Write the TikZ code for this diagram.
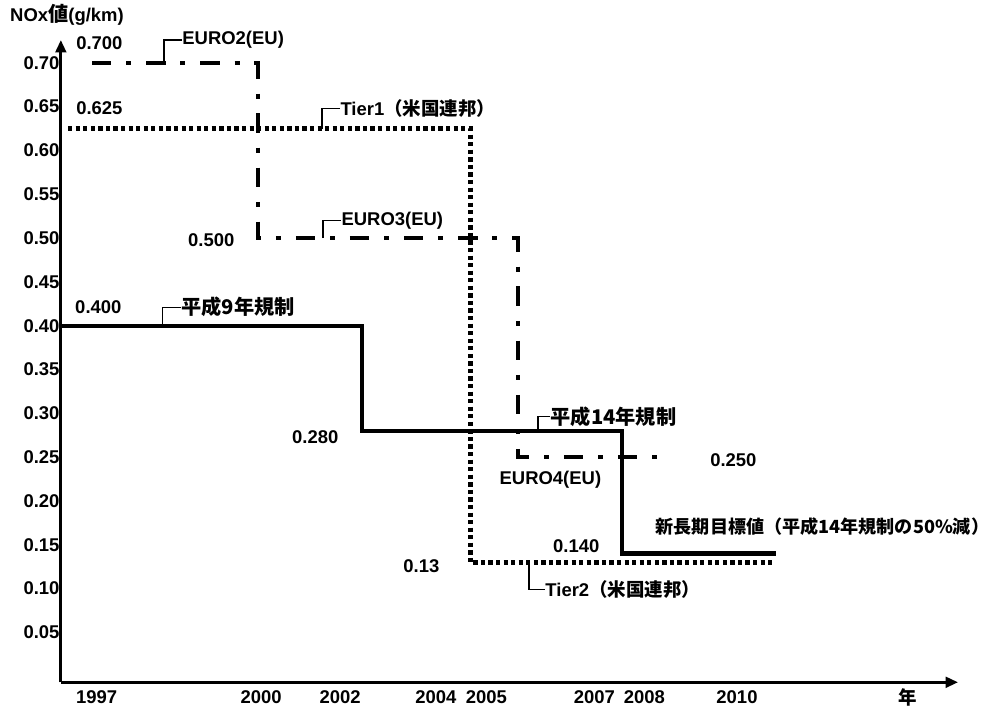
\documentclass[tikz,border=0pt]{standalone}
\usepackage{fontspec}
\setmainfont{Liberation Sans}
\newfontfamily\cjk{Noto Sans CJK JP}
\usetikzlibrary{arrows.meta}
\begin{document}
\begin{tikzpicture}[x=1.04cm, y=1.752cm]
	% estilos
	\tikzstyle{txt} = [inner sep=0pt, font=\bfseries\fontsize{10.5}{12}\selectfont]
	\tikzstyle{jp} = [txt, font=\bfseries\cjk\fontsize{11.5}{13}\selectfont]
	\tikzstyle{eje} = [line width=1.6pt, -{Triangle[length=7pt, width=6pt]}]
	\tikzstyle{japon} = [line width=2.3pt]
	\tikzstyle{euro} = [line width=2.6pt, dash pattern=on 11pt off 8.5pt on 2.8pt off 8.5pt]
	\tikzstyle{tier} = [line width=2.8pt, dash pattern=on 2.4pt off 1.9pt]
	\tikzstyle{guia} = [line width=0.8pt]
	\useasboundingbox (-4.96,-0.377) rectangle (14.19,7.717);
	% ejes
	\coordinate (o) at (-3.79,-0.07);
	\draw [eje] (o) -- (-3.79,7.26);
	\draw [eje] (o) -- (13.46,-0.07);
	\node [txt, anchor=west] (tit) at (-4.77,7.55) {NOx{\cjk\fontsize{11.5}{13}\selectfont 値}(g/km)};
	\node [txt, anchor=east] (y70) at (-3.81,7) {0.70};
	\node [txt, anchor=east] (y65) at (-3.81,6.5) {0.65};
	\node [txt, anchor=east] (y60) at (-3.81,6) {0.60};
	\node [txt, anchor=east] (y55) at (-3.81,5.5) {0.55};
	\node [txt, anchor=east] (y50) at (-3.81,5) {0.50};
	\node [txt, anchor=east] (y45) at (-3.81,4.5) {0.45};
	\node [txt, anchor=east] (y40) at (-3.81,4) {0.40};
	\node [txt, anchor=east] (y35) at (-3.81,3.5) {0.35};
	\node [txt, anchor=east] (y30) at (-3.81,3) {0.30};
	\node [txt, anchor=east] (y25) at (-3.81,2.5) {0.25};
	\node [txt, anchor=east] (y20) at (-3.81,2) {0.20};
	\node [txt, anchor=east] (y15) at (-3.81,1.5) {0.15};
	\node [txt, anchor=east] (y10) at (-3.81,1) {0.10};
	\node [txt, anchor=east] (y05) at (-3.81,0.5) {0.05};
	\node [txt] (a1997) at (-3.1,-0.24) {1997};
	\node [txt] (a2000) at (0.06,-0.24) {2000};
	\node [txt] (a2002) at (1.58,-0.24) {2002};
	\node [txt] (a2004) at (3.42,-0.24) {2004};
	\node [txt] (a2005) at (4.39,-0.24) {2005};
	\node [txt] (a2007) at (6.47,-0.24) {2007};
	\node [txt] (a2008) at (7.43,-0.24) {2008};
	\node [txt] (a2010) at (9.21,-0.24) {2010};
	\node [txt, font=\bfseries\cjk\fontsize{10.5}{12}\selectfont] (anio) at (12.5,-0.24) {年};
	% normas
	\draw [tier] (-3.65,6.25) -- (4.08,6.25) -- (4.08,1.3) -- (9.94,1.3);
	\draw [euro] (-3.19,7) -- (0,7) -- (0,5) -- (5,5) -- (5,2.5) -- (7.9,2.5);
	\draw [japon] (-3.79,4) -- (2,4) -- (2,2.8) -- (7,2.8) -- (7,1.4) -- (9.96,1.4);
	% valores
	\node [txt, anchor=west] (v700) at (-3.5,7.23) {0.700};
	\node [txt, anchor=west] (v625) at (-3.5,6.48) {0.625};
	\node [txt, anchor=west] (v500) at (-1.35,4.98) {0.500};
	\node [txt, anchor=west] (v400) at (-3.52,4.21) {0.400};
	\node [txt, anchor=west] (v280) at (0.65,2.73) {0.280};
	\node [txt, anchor=west] (v250) at (8.69,2.47) {0.250};
	\node [txt, anchor=west] (v140) at (5.67,1.48) {0.140};
	\node [txt, anchor=west] (v13) at (2.79,1.26) {0.13};
	% rotulos
	\coordinate (pe2) at (-1.81,7);
	\coordinate (pt1) at (1.23,6.25);
	\coordinate (pe3) at (1.25,5);
	\coordinate (ph9) at (-1.83,4);
	\coordinate (ph14) at (5.38,2.8);
	\coordinate (pt2) at (5.21,1.3);
	\node [txt, anchor=west] (e2) at (-1.46,7.26) {EURO2(EU)};
	\node [txt, anchor=west] (t1) at (1.58,6.48) {Tier1{\cjk （米国連邦）}};
	\node [txt, anchor=west] (e3) at (1.6,5.2) {EURO3(EU)};
	\node [jp, anchor=west] (h9) at (-1.48,4.21) {平成9年規制};
	\node [jp, anchor=west] (h14) at (5.62,2.96) {平成14年規制};
	\node [txt, anchor=west] (e4) at (4.64,2.24) {EURO4(EU)};
	\node [txt, anchor=west] (t2) at (5.52,0.99) {Tier2{\cjk （米国連邦）}};
	\node [jp, anchor=west, font=\bfseries\cjk\fontsize{10.3}{12}\selectfont] (meta) at (7.64,1.71) {新長期目標値（平成14年規制の50\%減）};
	\draw [guia] (pe2) |- (e2.west);
	\draw [guia] (pt1) |- (t1.west);
	\draw [guia] (pe3) |- (e3.west);
	\draw [guia] (ph9) |- (h9.west);
	\draw [guia] (ph14) |- (h14.west);
	\draw [guia] (pt2) |- (t2.west);
\end{tikzpicture}
\end{document}
